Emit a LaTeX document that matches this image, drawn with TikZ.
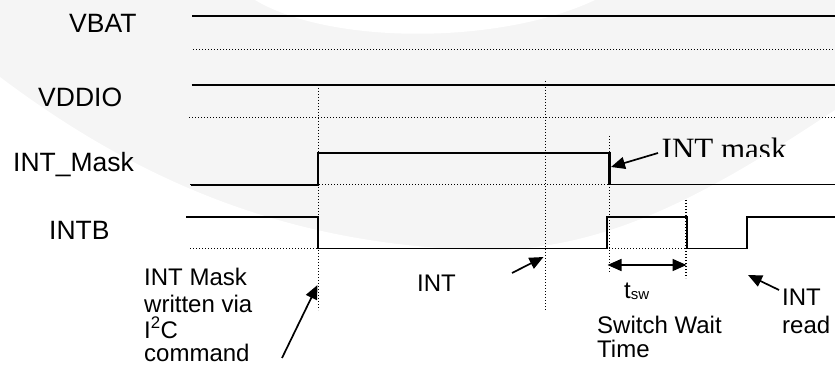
\documentclass[tikz,border=0pt]{standalone}
\usepackage{fontspec}
\setmainfont{Liberation Sans}
\newfontfamily\seriffont{Liberation Serif}
\usetikzlibrary{arrows.meta}
\definecolor{bggray}{RGB}{245,245,245}
\tikzset{
  sig/.style={line width=1.7pt, line join=miter},
  dots/.style={line width=1.2pt, dash pattern=on 1.2pt off 1.8pt, black},
  lab/.style={font=\fontsize{26.5}{30}\selectfont, inner sep=0pt, anchor=base west},
  note/.style={font=\fontsize{24}{28}\selectfont, inner sep=0pt, anchor=base west},
  pointer/.style={line width=1.7pt, -{Triangle[length=14pt,width=12pt]}},
  dim/.style={line width=1.7pt, {Triangle[length=14pt,width=12pt]}-{Triangle[length=14pt,width=12pt]}}
}
\begin{document}
\begin{tikzpicture}[x=1pt,y=-1pt]
\useasboundingbox (0,0) rectangle (835,366);
% faint watermark background
\fill[bggray] (0,0) rectangle (835,366);
\fill[white] (0,77) .. controls (150,190) and (300,245) .. (480,250)
  .. controls (600,252) and (700,200) .. (835,110) -- (835,366) -- (0,366) -- cycle;
\fill[white] (255,0) .. controls (330,45) and (500,45) .. (595,0) -- cycle;

% labels
\node[lab] (vbat) at (69,33) {VBAT};
\node[lab] (vddio) at (38,107) {VDDIO};
\node[lab] (intmask) at (13,172) {INT\_Mask};
\node[lab] (intb) at (49,239) {INTB};

% coordinates
\coordinate (m1) at (318.3,184.7);
\coordinate (m2) at (318.3,152.7);
\coordinate (m3) at (608.5,152.7);
\coordinate (m4) at (608.5,184.5);

% VBAT
\draw[sig] (192,16) -- (835,16);
\draw[dots] (193,49.3) -- (835,49.3);
% VDDIO
\draw[sig] (191.5,84.7) -- (835,84.7);
\draw[dots] (189,117.3) -- (835,117.3);
% INT_Mask
\draw[dots] (190,184.7) -- (608.5,184.7);
\draw[sig] (191,184.7) -- (m1) -- (m2) -- (m3) -- (m4) -- (835,184.5);
\draw[line width=2.6pt] (609.3,152) -- (609.3,184.5);
% INTB
\draw[dots] (190,248.5) -- (318.3,248.5);
\draw[dots] (609,248.5) -- (687,248.5);
\draw[sig] (186,216.7) -- (318.3,216.7) -- (318.3,248.5) -- (607.3,248.5)
  -- (607.3,216.7) -- (687.3,216.7) -- (687.3,248.5) -- (746.7,248.5)
  -- (746.7,216.7) -- (835,216.7);

% vertical dotted markers
\coordinate (v1t) at (318.3,85);
\coordinate (v1b) at (318.3,310);
\coordinate (v2t) at (545.7,81);
\coordinate (v2b) at (545.7,310);
\coordinate (v3t) at (609.3,136);
\coordinate (v3b) at (609.3,272);
\coordinate (v4t) at (686,200);
\coordinate (v4b) at (686,278);
\draw[dots] (v1t) -- (v1b);
\draw[dots] (v2t) -- (v2b);
\draw[dots] (v3t) -- (v3b);
\draw[dots] (v4t) -- (v4b);

% t_sw dimension
\coordinate (d1) at (607.5,265);
\coordinate (d2) at (686.5,265);
\draw[dim] (d1) -- (d2);
\node[note] (tsw) at (624,298) {t\raisebox{-1.5pt}{\fontsize{15}{15}\selectfont sw}};

% texts
\node[note] (w1) at (144,285) {INT Mask};
\node[note] (w2) at (144,312) {written via};
\node[note] (w3) at (144,338) {I\textsuperscript{2}C};
\node[note] (w4) at (144,361) {command};
\node[note] (int) at (417,291) {INT};
\node[note] (sw1) at (597,333) {Switch Wait};
\node[note] (sw2) at (597,357) {Time};
\node[note] (rd1) at (782,305) {INT};
\node[note] (rd2) at (782,333) {read};
\begin{scope}
\clip (640,120) rectangle (835,157);
\node[inner sep=0pt, anchor=base west, font=\seriffont\fontsize{31}{31}\selectfont] (imask) at (661.5,159.5) {INT mask};
\end{scope}

% pointers
\coordinate (p1s) at (658,153);
\coordinate (p1e) at (611,167);
\draw[pointer] (p1s) -- (p1e);
\coordinate (p2s) at (779,290);
\coordinate (p2e) at (748,275);
\draw[pointer] (p2s) -- (p2e);
\coordinate (p3s) at (512,273);
\coordinate (p3e) at (543.5,257);
\draw[pointer] (p3s) -- (p3e);
\coordinate (p4s) at (282,358);
\coordinate (p4e) at (317.5,285);
\draw[pointer] (p4s) -- (p4e);
\end{tikzpicture}
\end{document}
